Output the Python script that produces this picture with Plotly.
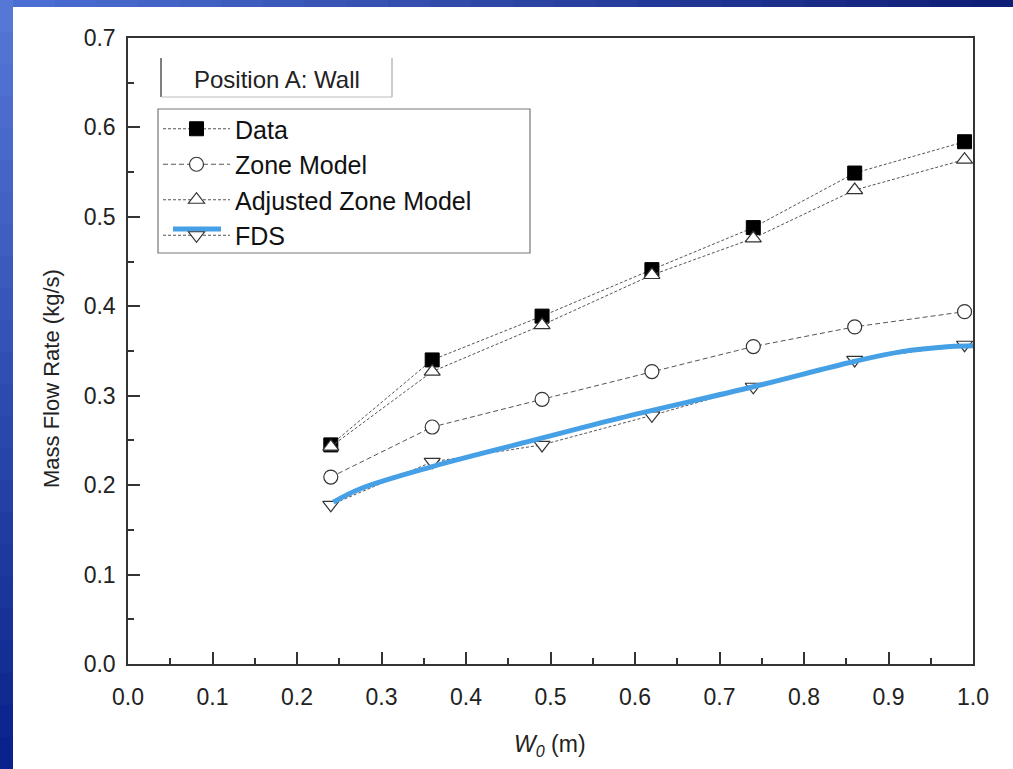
import plotly.graph_objects as go

# ---- data ----
w0 = [0.24, 0.36, 0.49, 0.62, 0.74, 0.86, 0.99]
data_vals = [0.245, 0.340, 0.389, 0.441, 0.488, 0.549, 0.584]
zone_vals = [0.209, 0.265, 0.296, 0.327, 0.355, 0.377, 0.394]
adj_vals = [0.243, 0.327, 0.379, 0.435, 0.476, 0.530, 0.564]
fds_vals = [0.178, 0.226, 0.245, 0.278, 0.310, 0.340, 0.357]

# blue hand-drawn FDS curve
blue_x = [0.243, 0.275, 0.361, 0.479, 0.582, 0.74, 0.858, 0.914, 0.973, 1.0]
blue_y = [0.181, 0.196, 0.221, 0.250, 0.275, 0.310, 0.338, 0.349, 0.355, 0.356]

x_ticks = [0.0, 0.1, 0.2, 0.3, 0.4, 0.5, 0.6, 0.7, 0.8, 0.9, 1.0]
y_ticks = [0.0, 0.1, 0.2, 0.3, 0.4, 0.5, 0.6, 0.7]

FONT = "Liberation Sans"
LINE = "#555555"

W, H = 1013, 769
L, R, T, B = 128, 40, 38, 105
PW, PH = W - L - R, H - T - B


def px(x):
    return (x - L) / PW


def py(y):
    return (H - B - y) / PH


fig = go.Figure()

fig.add_trace(go.Scatter(
    x=w0, y=data_vals, name="Data", mode="lines+markers",
    line=dict(color=LINE, width=1, dash="3px,2px"),
    marker=dict(symbol="square", size=14, color="black", line=dict(color="black", width=1)),
    cliponaxis=False))
fig.add_trace(go.Scatter(
    x=w0, y=zone_vals, name="Zone Model", mode="lines+markers",
    line=dict(color=LINE, width=1, dash="5px,3px"),
    marker=dict(symbol="circle", size=14, color="white", line=dict(color="#333", width=1.2)),
    cliponaxis=False))
fig.add_trace(go.Scatter(
    x=w0, y=adj_vals, name="Adjusted Zone Model", mode="lines+markers",
    line=dict(color=LINE, width=1, dash="3px,2px"),
    marker=dict(symbol="triangle-up", size=14, color="white", line=dict(color="#333", width=1.2)),
    cliponaxis=False))
fig.add_trace(go.Scatter(
    x=w0, y=fds_vals, name="FDS", mode="lines+markers",
    line=dict(color=LINE, width=1, dash="3px,2px"),
    marker=dict(symbol="triangle-down", size=14, color="white", line=dict(color="#333", width=1.2)),
    cliponaxis=False))
fig.add_trace(go.Scatter(
    x=blue_x, y=blue_y, mode="lines", showlegend=False,
    line=dict(color="#45a0e6", width=5, shape="spline", smoothing=1.0)))

shapes = []
# slide background: white panel with blue gradient edges
n = 24
for i in range(n):
    t = i / (n - 1)
    c = (int(85 - 75 * t), int(120 - 85 * t), int(215 - 75 * t))
    shapes.append(dict(type="rect", xref="paper", yref="paper", layer="below",
                       x0=px(0), x1=px(13), y0=py(i * H / n), y1=py((i + 1) * H / n + 1),
                       fillcolor=f"rgb{c}", line=dict(width=0)))
for i in range(n):
    t = i / (n - 1)
    c = (int(75 - 60 * t), int(110 - 80 * t), int(210 - 90 * t))
    shapes.append(dict(type="rect", xref="paper", yref="paper", layer="below",
                       x0=px(13 + i * (W - 13) / n), x1=px(13 + (i + 1) * (W - 13) / n + 1),
                       y0=py(7), y1=py(0), fillcolor=f"rgb{c}", line=dict(width=0)))
shapes.append(dict(type="rect", xref="paper", yref="paper", layer="below",
                   x0=px(13), x1=px(W), y0=py(H), y1=py(7),
                   fillcolor="white", line=dict(width=0)))
# legend frame
shapes.append(dict(type="rect", xref="paper", yref="paper", layer="above",
                   x0=px(158), x1=px(530), y0=py(253), y1=py(109),
                   fillcolor="white", line=dict(color="#777", width=1.2)))
# "Position A: Wall" box (left, right, bottom edges)
shapes.append(dict(type="line", xref="paper", yref="paper", x0=px(161), x1=px(161),
                   y0=py(58), y1=py(97), line=dict(color="#555", width=1.5)))
shapes.append(dict(type="line", xref="paper", yref="paper", x0=px(392), x1=px(392),
                   y0=py(58), y1=py(97), line=dict(color="#aaa", width=1.2)))
shapes.append(dict(type="line", xref="paper", yref="paper", x0=px(161), x1=px(392),
                   y0=py(97), y1=py(97), line=dict(color="#bbb", width=1.2)))
# blue legend bar for FDS (drawn slightly above the FDS legend symbol)
shapes.append(dict(type="line", xref="paper", yref="paper", x0=px(173), x1=px(221),
                   y0=py(229), y1=py(229), line=dict(color="#45a0e6", width=5)))

annotations = [
    dict(text="Position A: Wall", xref="paper", yref="paper", x=px(277), y=py(79),
         xanchor="center", yanchor="middle",
         showarrow=False, font=dict(family=FONT, size=24, color="#222")),
    dict(text="Mass Flow Rate (kg/s)", xref="paper", yref="paper", x=px(51), y=py(379),
         xanchor="center", yanchor="middle",
         textangle=-90, showarrow=False, font=dict(family=FONT, size=22, color="#222")),
    dict(text="<i>W</i><sub><i>0</i></sub> (m)", xref="paper", yref="paper", x=px(550), y=py(745),
         xanchor="center", yanchor="middle",
         showarrow=False, font=dict(family=FONT, size=23, color="#222")),
]

axis_common = dict(
    showline=True, linecolor="#333", linewidth=1.5, mirror=True,
    ticks="inside", ticklen=12, tickwidth=1.5, tickcolor="#333",
    showgrid=False, zeroline=False,
    tickfont=dict(family=FONT, size=23, color="#222"),
    tickformat=".1f",
)

fig.update_layout(
    width=W, height=H,
    margin=dict(l=L, r=R, t=T, b=B),
    paper_bgcolor="#2a4aa8", plot_bgcolor="white",
    xaxis=dict(range=[0, 1.0], tickvals=x_ticks, ticklabelstandoff=12,
               minor=dict(ticks="inside", ticklen=6, tickcolor="#333", dtick=0.05, tick0=0),
               **axis_common),
    yaxis=dict(range=[0, 0.7], tickvals=y_ticks, ticklabelstandoff=6,
               minor=dict(ticks="inside", ticklen=6, tickcolor="#333", dtick=0.05, tick0=0),
               **axis_common),
    legend=dict(x=px(158), y=py(106), xanchor="left", yanchor="top",
                bgcolor="rgba(0,0,0,0)", borderwidth=0,
                font=dict(family=FONT, size=25, color="#111"),
                itemwidth=67, tracegroupgap=0),
    shapes=shapes, annotations=annotations,
    showlegend=True,
)

fig.write_html("out.html")
